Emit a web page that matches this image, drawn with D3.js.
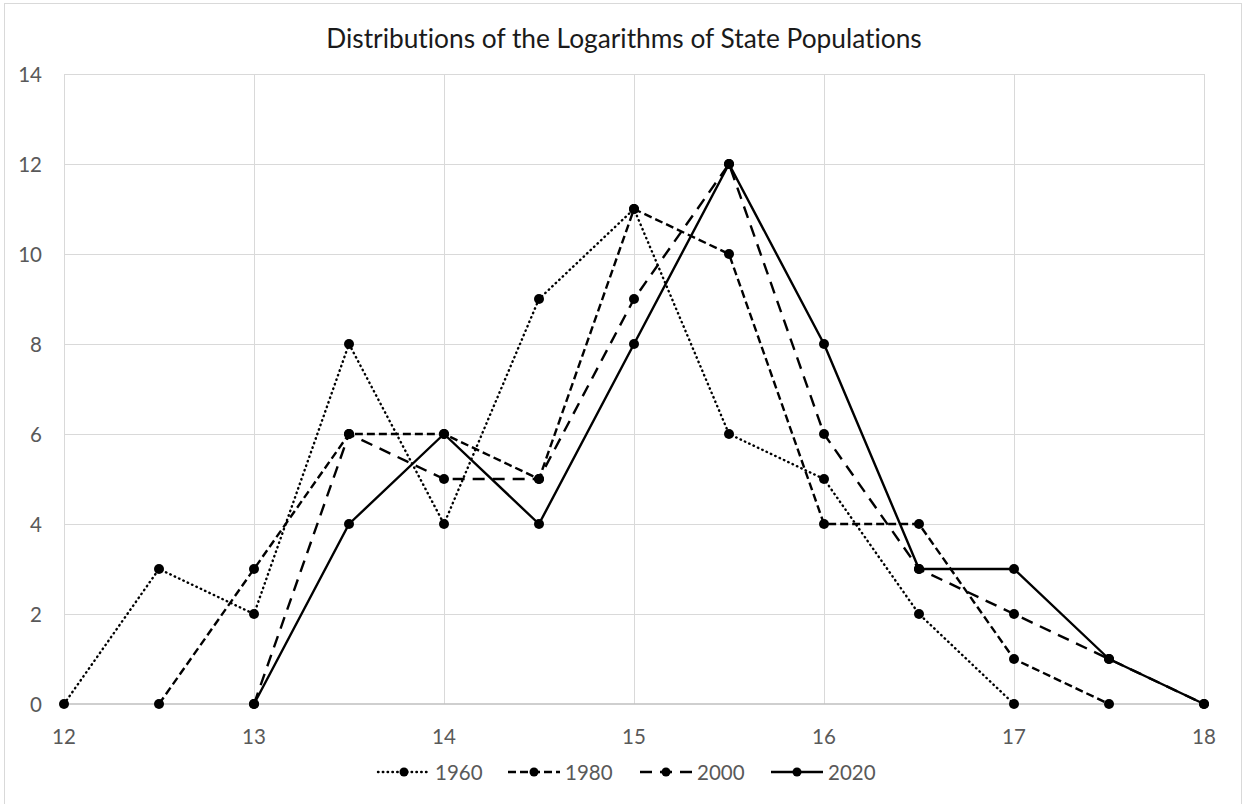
<!DOCTYPE html>
<html>
<head>
<meta charset="utf-8">
<script src="https://cdn.jsdelivr.net/npm/d3@7"></script>
<style>
  body { margin: 0; background: #fff; }
  svg text { font-family: Lato, "Open Sans", sans-serif; font-variant-ligatures: none; }
</style>
</head>
<body>
<svg id="chart"></svg>
<script>
// log(population) bins and state counts per census year
const bins = [12, 12.5, 13, 13.5, 14, 14.5, 15, 15.5, 16, 16.5, 17, 17.5, 18];
const counts1960 = [0, 3, 2, 8, 4, 9, 11, 6, 5, 2, 0, null, null];
const counts1980 = [null, 0, 3, 6, 6, 5, 11, 10, 4, 4, 1, 0, null];
const counts2000 = [null, null, 0, 6, 5, 5, 9, 12, 6, 3, 2, 1, 0];
const counts2020 = [null, null, 0, 4, 6, 4, 8, 12, 8, 3, 3, 1, 0];
const seriesNames = ["1960", "1980", "2000", "2020"];
const xTicks = [12, 13, 14, 15, 16, 17, 18];
const yTicks = [0, 2, 4, 6, 8, 10, 12, 14];
const title = "Distributions of the Logarithms of State Populations";

const width = 1245, height = 804;
const margin = {left: 64, right: 41, top: 74, bottom: 100};

const svg = d3.select("#chart").attr("width", width).attr("height", height);

// chart border
svg.append("rect")
  .attr("x", 4.5).attr("y", 3.5)
  .attr("width", 1237).attr("height", 810)
  .attr("fill", "none").attr("stroke", "#d9d9d9");

const x = d3.scaleLinear().domain([12, 18]).range([margin.left, width - margin.right]);
const y = d3.scaleLinear().domain([0, 14]).range([height - margin.bottom, margin.top]);

// gridlines
svg.append("g").selectAll("line.h")
  .data(yTicks.filter(d => d > 0))
  .enter().append("line")
  .attr("x1", x(12)).attr("x2", x(18))
  .attr("y1", d => Math.round(y(d)) + 0.5).attr("y2", d => Math.round(y(d)) + 0.5)
  .attr("stroke", "#d9d9d9").attr("stroke-width", 1);

svg.append("g").selectAll("line.v")
  .data(xTicks)
  .enter().append("line")
  .attr("x1", d => Math.round(x(d)) + 0.5).attr("x2", d => Math.round(x(d)) + 0.5)
  .attr("y1", y(0)).attr("y2", y(14))
  .attr("stroke", "#d9d9d9").attr("stroke-width", 1);

// baseline
svg.append("line")
  .attr("x1", x(12)).attr("x2", x(18))
  .attr("y1", y(0)).attr("y2", y(0))
  .attr("stroke", "#bfbfbf").attr("stroke-width", 1.5);

// axis labels
svg.append("g").selectAll("text")
  .data(xTicks)
  .enter().append("text")
  .attr("x", d => x(d)).attr("y", y(0) + 32)
  .attr("text-anchor", "middle").attr("dominant-baseline", "central")
  .attr("fill", "#595959").attr("font-size", 20.5)
  .text(d => d);

svg.append("g").selectAll("text")
  .data(yTicks)
  .enter().append("text")
  .attr("x", 42).attr("y", d => y(d))
  .attr("text-anchor", "end").attr("dominant-baseline", "central")
  .attr("fill", "#595959").attr("font-size", 20.5)
  .text(d => d);

// title, sized to match reference width
const titleText = svg.append("text")
  .attr("x", 624).attr("y", 38)
  .attr("text-anchor", "middle").attr("dominant-baseline", "central")
  .attr("fill", "#1a1a1a").attr("font-size", 20)
  .text(title);
const tw = titleText.node().getComputedTextLength();
titleText.attr("font-size", 20 * 596 / tw);

// series
const styles = {
  "1960": {dash: "0.5,4.3", cap: "round", w: 2.4},
  "1980": {dash: "8,4", cap: "butt", w: 2.4},
  "2000": {dash: "12,8", cap: "butt", w: 2.4},
  "2020": {dash: null, cap: "butt", w: 2.4}
};
const allCounts = [counts1960, counts1980, counts2000, counts2020];

const line = d3.line()
  .defined(d => d[1] != null)
  .x(d => x(d[0]))
  .y(d => y(d[1]));

seriesNames.forEach((name, i) => {
  const pts = bins.map((b, j) => [b, allCounts[i][j]]);
  const st = styles[name];
  const g = svg.append("g");
  g.append("path")
    .datum(pts)
    .attr("d", line)
    .attr("fill", "none")
    .attr("stroke", "#000")
    .attr("stroke-width", st.w)
    .attr("stroke-linecap", st.cap)
    .attr("stroke-linejoin", "round")
    .attr("stroke-dasharray", st.dash);
  g.selectAll("circle")
    .data(pts.filter(d => d[1] != null))
    .enter().append("circle")
    .attr("cx", d => x(d[0])).attr("cy", d => y(d[1]))
    .attr("r", 5).attr("fill", "#000");
});

// legend
const legendX = [378, 508, 640, 771];
const legendY = 772;
seriesNames.forEach((name, i) => {
  const st = styles[name];
  const lg = svg.append("g").attr("transform", `translate(${legendX[i]},${legendY})`);
  lg.append("line")
    .attr("x1", 0).attr("x2", 52).attr("y1", 0).attr("y2", 0)
    .attr("stroke", "#000").attr("stroke-width", st.w)
    .attr("stroke-linecap", st.cap)
    .attr("stroke-dasharray", st.dash);
  lg.append("circle").attr("cx", 26).attr("cy", 0).attr("r", 4.5).attr("fill", "#000");
  lg.append("text")
    .attr("x", 57).attr("y", 0)
    .attr("dominant-baseline", "central")
    .attr("fill", "#595959").attr("font-size", 20.5)
    .text(name);
});
</script>
</body>
</html>
